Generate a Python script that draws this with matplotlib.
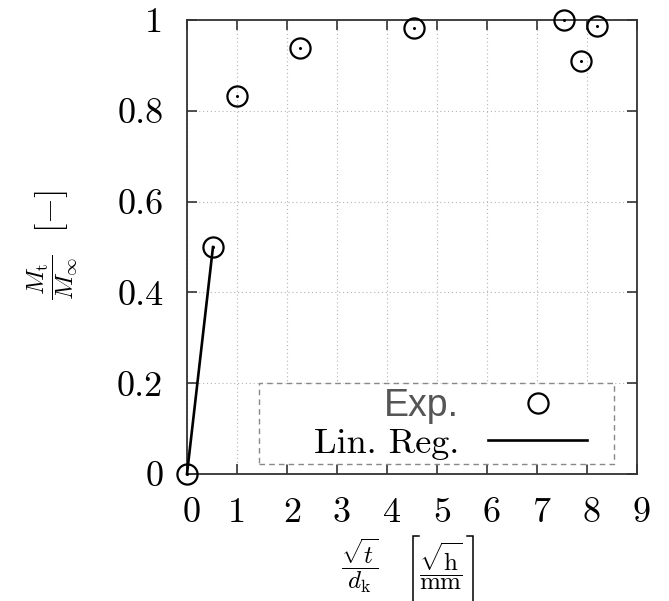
import matplotlib
matplotlib.use("Agg")
import matplotlib.pyplot as plt
import matplotlib.transforms as mtransforms
from matplotlib.lines import Line2D
from matplotlib.patches import Rectangle

# Data
exp_x = [0.0, 0.52, 1.0, 2.26, 4.54, 7.54, 7.88, 8.2]
exp_y = [0.0, 0.50, 0.833, 0.938, 0.982, 1.0, 0.91, 0.986]
reg_x = [0.0, 0.52]
reg_y = [0.0, 0.50]
x_ticks = list(range(0, 10))
y_ticks = [0, 0.2, 0.4, 0.6, 0.8, 1]
y_tick_labels = ["0", "0.2", "0.4", "0.6", "0.8", "1"]

plt.rcParams["mathtext.fontset"] = "cm"
plt.rcParams["font.family"] = ["cmr10", "DejaVu Serif"]
plt.rcParams["axes.unicode_minus"] = False

W, H = 669, 601
fig = plt.figure(figsize=(W / 100, H / 100), dpi=100)
ax = fig.add_axes([0.2795, 0.2113, 0.6726, 0.7554])

spine_color = "#333333"
ax.grid(True, linestyle=(0, (1, 2.5)), color="#b5b5b5", linewidth=0.8)
ax.set_axisbelow(True)

# Linear regression line
ax.plot(reg_x, reg_y, color="black", linewidth=1.9, clip_on=False, zorder=3)

# Experimental points: open circle with centre dot
ax.plot(exp_x, exp_y, linestyle="none", marker="o", markersize=14.5,
        markerfacecolor="none", markeredgecolor="black", markeredgewidth=1.6,
        clip_on=False, zorder=4)
ax.plot(exp_x, exp_y, linestyle="none", marker="o", markersize=1.2,
        color="black", clip_on=False, zorder=4)

ax.set_xlim(0, 9)
ax.set_ylim(0, 1)
ax.set_xticks(x_ticks)
ax.set_xticklabels([str(v) for v in x_ticks])
ax.set_yticks(y_ticks)
ax.set_yticklabels(y_tick_labels)

for s in ax.spines.values():
    s.set_color(spine_color)
    s.set_linewidth(1.3)

ax.tick_params(direction="in", length=7, width=1.2, color=spine_color,
               top=True, right=True, labelsize=26)
ax.tick_params(axis="x", pad=17)
ax.tick_params(axis="y", pad=17)

# x tick labels in the original sit a few pixels right of their ticks
for lbl in ax.get_xticklabels():
    dx = 0 if lbl.get_text() == "1" else 5
    lbl.set_transform(lbl.get_transform() +
                      mtransforms.ScaledTranslation(dx / 100, 0, fig.dpi_scale_trans))

# x label: two fractions, the unit in tall square brackets
fig.text(360 / W, 1 - 566 / H, r"$\dfrac{\sqrt{t}}{d_\mathrm{k}}$",
         fontsize=18, ha="center", va="center")
fig.text(441 / W, 1 - 566 / H, r"$\dfrac{\sqrt{\mathrm{h}}}{\mathrm{mm}}$",
         fontsize=18, ha="center", va="center")
for xs in ([419, 413, 413], [467, 473, 473]):
    fig.add_artist(Line2D([v / W for v in xs], [1 - 536 / H, 1 - 536 / H, -0.05],
                          transform=fig.transFigure, color="black",
                          linewidth=1.1, solid_joinstyle="miter"))

# y label
fig.text(52 / W, 1 - 277 / H, r"$\dfrac{M_\mathrm{t}}{M_\infty}$",
         fontsize=18, rotation=90, ha="center", va="center")
fig.text(52 / W, 1 - 212 / H, r"$[-]$",
         fontsize=24, rotation=90, ha="center", va="center")

# Legend box (dashed, white fill)
box = Rectangle((0.16, 0.022), 0.789, 0.178, transform=ax.transAxes,
                facecolor="white", edgecolor="#888888", linestyle=(0, (4, 3)),
                linewidth=1.0, zorder=5)
ax.add_patch(box)

handles = [
    Line2D([], [], linestyle="none", marker="o", markersize=14.5,
           markerfacecolor="none", markeredgecolor="black", markeredgewidth=1.6),
    Line2D([], [], color="black", linewidth=1.9),
]
leg = ax.legend(handles, ["Exp.", "Lin. Reg."], loc="center right",
                bbox_to_anchor=(0.93, 0.111), frameon=False, markerfirst=False,
                fontsize=26, handlelength=2.75, handletextpad=0.8,
                labelspacing=0.1, borderpad=0.0)
leg.set_zorder(6)
exp_txt = leg.get_texts()[0]
exp_txt.set_fontfamily("Liberation Sans")
exp_txt.set_color("#555555")
exp_txt.set_fontsize(27)

fig.savefig("out.png", dpi=100)
